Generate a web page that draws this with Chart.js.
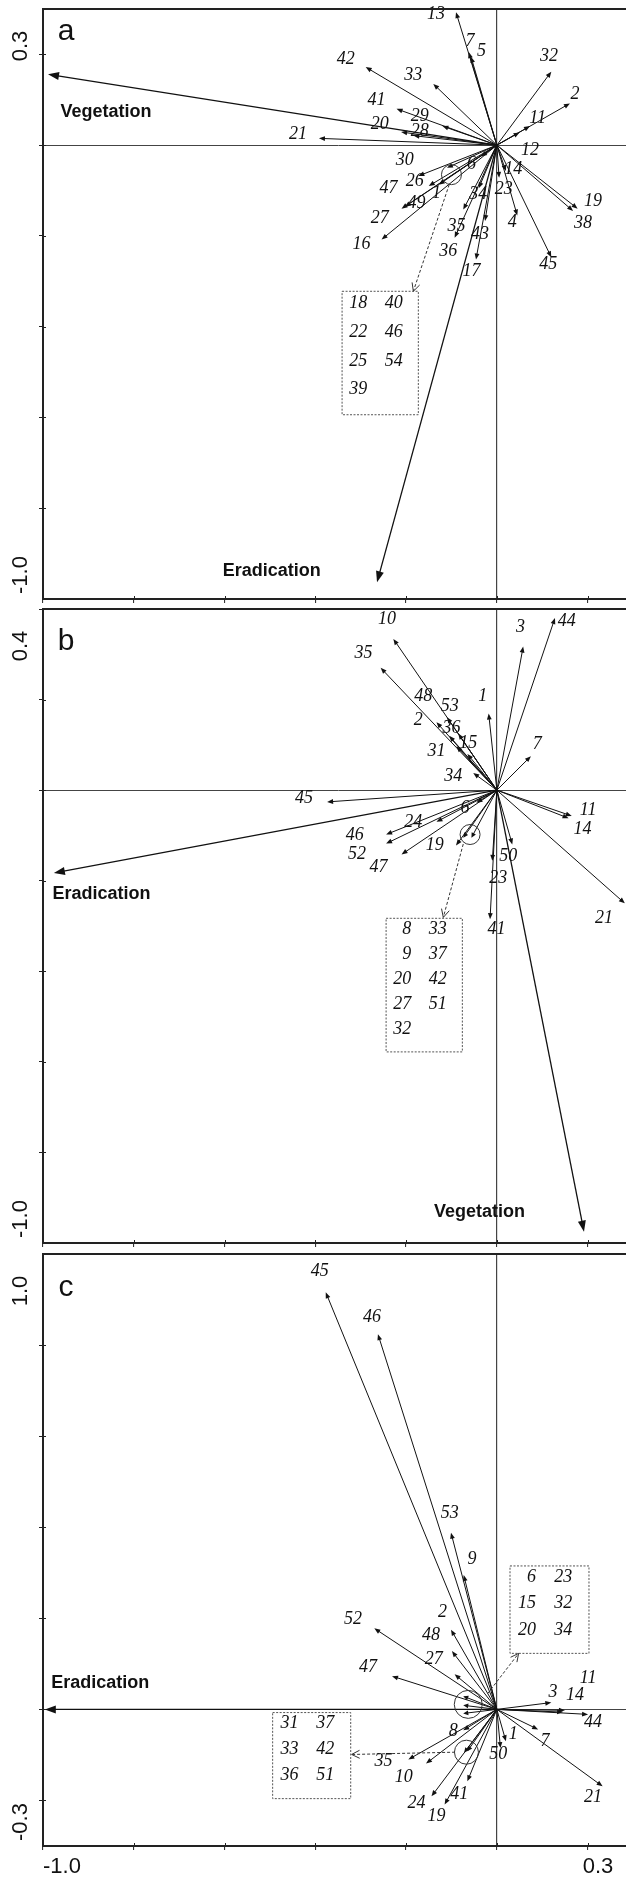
<!DOCTYPE html>
<html>
<head>
<meta charset="utf-8">
<script src="https://cdn.jsdelivr.net/npm/chart.js@4.4.1/dist/chart.umd.min.js"></script>
<style>
html, body { margin: 0; padding: 0; background: #fff; width: 626px; height: 1877px; overflow: hidden; }
.panel { position: absolute; left: 0; }
</style>
</head>
<body>
<div class="panel" style="top:0px"><canvas id="chartA" width="633" height="604"></canvas></div>
<div class="panel" style="top:604px"><canvas id="chartB" width="633" height="644"></canvas></div>
<div class="panel" style="top:1248px"><canvas id="chartC" width="633" height="629"></canvas></div>
<script>
// shared x axis
const xTicks = [-1.0, -0.8, -0.6, -0.4, -0.2, 0, 0.2];
const xEndLabels = ['-1.0', '0.3'];

// ---- panel a ----
const aYTicks = [0.2, 0, -0.2, -0.4, -0.6, -0.8];
const aYEndLabels = ['0.3', '-1.0'];
const aSpecies = ['13','7','5','42','33','32','2','11','12','41','29','20','28','21','30','26','6','47','1','49','27','16','34','35','36','43','17','23','14','4','45','19','38'];
const aTipX = [-0.090,-0.062,-0.057,-0.289,-0.140,0.120,0.161,0.073,0.050,-0.221,-0.120,-0.211,-0.184,-0.392,-0.110,-0.173,-0.035,-0.150,-0.128,-0.203,-0.210,-0.254,-0.040,-0.074,-0.093,-0.026,-0.046,0.005,0.020,0.045,0.120,0.178,0.168];
const aTipY = [0.293,0.205,0.195,0.172,0.135,0.162,0.092,0.042,0.028,0.080,0.042,0.029,0.021,0.015,-0.050,-0.068,-0.025,-0.090,-0.087,-0.136,-0.140,-0.208,-0.095,-0.142,-0.204,-0.167,-0.252,-0.072,-0.057,-0.155,-0.247,-0.140,-0.145];
const aLabelX = [-0.134,-0.059,-0.034,-0.333,-0.184,0.115,0.172,0.090,0.073,-0.265,-0.170,-0.258,-0.170,-0.438,-0.203,-0.181,-0.056,-0.239,-0.133,-0.177,-0.258,-0.298,-0.041,-0.089,-0.107,-0.037,-0.056,0.015,0.036,0.034,0.113,0.212,0.190];
const aLabelY = [0.288,0.229,0.207,0.190,0.154,0.196,0.112,0.060,-0.011,0.099,0.064,0.047,0.031,0.024,-0.033,-0.079,-0.043,-0.096,-0.105,-0.127,-0.160,-0.219,-0.109,-0.178,-0.233,-0.197,-0.278,-0.098,-0.054,-0.171,-0.263,-0.123,-0.172];
const aEnvNames = ['Vegetation', 'Eradication'];
const aEnvX = [-0.989, -0.264];
const aEnvY = [0.156, -0.963];
const aEnvLabelX = [-0.861, -0.496];
const aEnvLabelY = [0.072, -0.939];
const aGroupX = [];
const aGroupY = [];
const aCircleX = [-0.100];
const aCircleY = [-0.065];
const aLinkFrom = [[-0.105, -0.087]];
const aLinkTo = [[-0.184, -0.322]];
const aBoxX = [[-0.341, -0.173]];
const aBoxY = [[-0.322, -0.594]];
const aBoxRows = [[['18','40'],['22','46'],['25','54'],['39','']]];

// ---- panel b ----
const bYTicks = [0.4, 0.2, 0, -0.2, -0.4, -0.6, -0.8];
const bYEndLabels = ['0.4', '-1.0'];
const bSpecies = ['10','35','3','44','1','48','53','2','36','15','31','34','7','11','14','21','45','46','52','47','24','6','19','50','23','41'];
const bTipX = [-0.228,-0.256,0.058,0.128,-0.018,-0.110,-0.085,-0.133,-0.105,-0.065,-0.089,-0.052,0.075,0.165,0.158,0.282,-0.374,-0.244,-0.244,-0.210,-0.133,-0.045,-0.090,0.034,-0.010,-0.015];
const bTipY = [0.334,0.270,0.317,0.380,0.169,0.161,0.125,0.150,0.120,0.080,0.097,0.038,0.075,-0.057,-0.062,-0.250,-0.026,-0.098,-0.118,-0.142,-0.070,-0.028,-0.122,-0.120,-0.156,-0.285];
const bLabelX = [-0.242,-0.294,0.052,0.154,-0.031,-0.162,-0.104,-0.173,-0.100,-0.063,-0.133,-0.096,0.089,0.201,0.189,0.236,-0.425,-0.313,-0.308,-0.261,-0.184,-0.070,-0.137,0.025,0.003,-0.001];
const bLabelY = [0.378,0.303,0.360,0.372,0.207,0.207,0.185,0.154,0.137,0.103,0.085,0.031,0.101,-0.044,-0.087,-0.283,-0.017,-0.100,-0.142,-0.170,-0.070,-0.039,-0.122,-0.147,-0.195,-0.308];
const bEnvNames = ['Eradication', 'Vegetation'];
const bEnvX = [-0.976, 0.192];
const bEnvY = [-0.183, -0.975];
const bEnvLabelX = [-0.871, -0.038];
const bEnvLabelY = [-0.230, -0.931];
const bGroupX = [-0.056, -0.074];
const bGroupY = [-0.105, -0.105];
const bCircleX = [-0.059];
const bCircleY = [-0.098];
const bLinkFrom = [[-0.074, -0.119]];
const bLinkTo = [[-0.118, -0.281]];
const bBoxX = [[-0.244, -0.076]];
const bBoxY = [[-0.283, -0.578]];
const bBoxRows = [[['8','33'],['9','37'],['20','42'],['27','51'],['32','']]];

// ---- panel c ----
const cYTicks = [0.8, 0.6, 0.4, 0.2, 0, -0.2];
const cYEndLabels = ['1.0', '-0.3'];
const cSpecies = ['45','46','53','9','2','48','27','52','47','3','14','11','44','7','21','1','50','8','35','10','24','19','41'];
const cTipX = [-0.377,-0.262,-0.101,-0.073,-0.101,-0.099,-0.093,-0.270,-0.231,0.120,0.146,0.150,0.201,0.091,0.233,0.020,0.008,-0.074,-0.195,-0.156,-0.144,-0.115,-0.065];
const cTipY = [0.916,0.824,0.388,0.295,0.175,0.128,0.077,0.178,0.073,0.015,-0.006,-0.002,-0.011,-0.044,-0.169,-0.070,-0.085,-0.046,-0.110,-0.119,-0.191,-0.209,-0.158];
const cLabelX = [-0.390,-0.275,-0.104,-0.055,-0.120,-0.145,-0.139,-0.317,-0.284,0.124,0.172,0.201,0.212,0.106,0.212,0.036,0.003,-0.096,-0.250,-0.205,-0.177,-0.133,-0.083];
const cLabelY = [0.962,0.861,0.430,0.329,0.213,0.163,0.110,0.197,0.093,0.038,0.031,0.068,-0.028,-0.070,-0.194,-0.055,-0.099,-0.048,-0.114,-0.150,-0.206,-0.235,-0.187];
const cEnvNames = ['Eradication'];
const cEnvX = [-0.996];
const cEnvY = [0];
const cEnvLabelX = [-0.874];
const cEnvLabelY = [0.057];
const cGroupX = [-0.074, -0.074, -0.074, -0.065, -0.072];
const cGroupY = [0.029, 0.009, -0.009, -0.092, -0.095];
const cCircleX = [-0.063, -0.067];
const cCircleY = [0.011, -0.094];
const cLinkFrom = [[-0.020, 0.035], [-0.092, -0.094]];
const cLinkTo = [[0.048, 0.123], [-0.320, -0.099]];
const cBoxX = [[0.029, 0.203], [-0.494, -0.322]];
const cBoxY = [[0.315, 0.123], [-0.007, -0.196]];
const cBoxRows = [
    [['6','23'],['15','32'],['20','34']],
    [['31','37'],['33','42'],['36','51']]
];

const SPECIES_FONT = 'italic 18px "Liberation Serif", "DejaVu Serif", serif';
const ENV_FONT = 'bold 18px "Liberation Sans", Arial, sans-serif';
const AXIS_FONT = '22px "Liberation Sans", Arial, sans-serif';
const LETTER_FONT = '30px "Liberation Sans", Arial, sans-serif';
const INK = '#111';

const toPoints = (xs, ys) => xs.map((v, i) => ({ x: v, y: ys[i] }));

function drawArrow(ctx, x0, y0, x1, y1, len, half, open) {
    const ang = Math.atan2(y1 - y0, x1 - x0);
    const c = Math.cos(ang), s = Math.sin(ang);
    const bx = x1 - c * len, by = y1 - s * len;
    ctx.beginPath();
    ctx.moveTo(x0, y0);
    ctx.lineTo(open ? x1 : bx + c, open ? y1 : by + s);
    ctx.stroke();
    ctx.save();
    ctx.setLineDash([]);
    ctx.beginPath();
    ctx.moveTo(bx - s * half, by + c * half);
    ctx.lineTo(x1, y1);
    ctx.lineTo(bx + s * half, by - c * half);
    if (open) {
        ctx.stroke();
    } else {
        ctx.closePath();
        ctx.fill();
    }
    ctx.restore();
}

const biplotPlugin = (p) => ({
    id: 'biplot',
    afterDatasetsDraw(chart) {
        const { ctx, scales: { x, y } } = chart;
        const px = (v) => x.getPixelForValue(v);
        const py = (v) => y.getPixelForValue(v);
        const ox = px(0), oy = py(0);

        ctx.save();
        ctx.strokeStyle = INK;
        ctx.fillStyle = INK;

        // species and grouped arrows
        ctx.lineWidth = 1;
        chart.getDatasetMeta(0).data.forEach(pt => drawArrow(ctx, ox, oy, pt.x, pt.y, 6, 2.4, false));
        chart.getDatasetMeta(2).data.forEach(pt => drawArrow(ctx, ox, oy, pt.x, pt.y, 5, 2.4, false));

        // environmental arrows
        ctx.lineWidth = 1.3;
        chart.getDatasetMeta(1).data.forEach(pt => drawArrow(ctx, ox, oy, pt.x, pt.y, 11, 4, false));

        // circles round grouped species
        ctx.lineWidth = 1;
        ctx.strokeStyle = '#333';
        p.circleX.forEach((cx, i) => {
            ctx.beginPath();
            ctx.arc(px(cx), py(p.circleY[i]), p.circleR[i], 0, Math.PI * 2);
            ctx.stroke();
        });

        // dashed links to boxes
        ctx.setLineDash([3, 2]);
        p.linkFrom.forEach((f, i) => {
            const t = p.linkTo[i];
            drawArrow(ctx, px(f[0]), py(f[1]), px(t[0]), py(t[1]), 8, 4, true);
        });

        // boxes
        ctx.setLineDash([2, 1.5]);
        ctx.strokeStyle = '#555';
        ctx.font = SPECIES_FONT;
        ctx.textBaseline = 'middle';
        ctx.fillStyle = INK;
        p.boxX.forEach((bx, i) => {
            const left = px(bx[0]), right = px(bx[1]);
            const top = py(p.boxY[i][0]), bottom = py(p.boxY[i][1]);
            const w = right - left, h = bottom - top;
            ctx.strokeRect(left, top, w, h);
            const rows = p.boxRows[i];
            const gap = h / (rows.length + 0.3);
            rows.forEach((row, r) => {
                const ty = top + gap * 0.42 + r * gap;
                ctx.textAlign = 'right';
                ctx.fillText(row[0], left + w * 0.33, ty);
                ctx.textAlign = 'left';
                ctx.fillText(row[1], left + w * 0.56, ty);
            });
        });
        ctx.setLineDash([]);

        // species labels
        ctx.textAlign = 'center';
        ctx.textBaseline = 'middle';
        ctx.font = SPECIES_FONT;
        p.species.forEach((s, i) => ctx.fillText(s, px(p.labelX[i]), py(p.labelY[i])));

        // environmental labels
        ctx.font = ENV_FONT;
        p.envNames.forEach((s, i) => ctx.fillText(s, px(p.envLabelX[i]), py(p.envLabelY[i])));
        ctx.restore();
    },
    afterDraw(chart) {
        const { ctx, chartArea: area, scales: { x, y } } = chart;
        ctx.save();
        ctx.strokeStyle = '#222';
        ctx.lineWidth = 2;
        ctx.beginPath();
        ctx.moveTo(area.left - 1, area.top);
        ctx.lineTo(area.right, area.top);
        ctx.stroke();

        // short inner halves of the tick marks
        ctx.lineWidth = 1;
        ctx.beginPath();
        y.ticks.forEach(t => {
            const ty = Math.round(y.getPixelForValue(t.value)) + 0.5;
            ctx.moveTo(area.left, ty);
            ctx.lineTo(area.left + 3, ty);
        });
        x.ticks.forEach(t => {
            const tx = Math.round(x.getPixelForValue(t.value)) + 0.5;
            ctx.moveTo(tx, area.bottom);
            ctx.lineTo(tx, area.bottom - 3);
        });
        ctx.stroke();

        ctx.fillStyle = INK;
        ctx.font = LETTER_FONT;
        ctx.textAlign = 'center';
        ctx.textBaseline = 'middle';
        ctx.fillText(p.letter, area.left + 23, area.top + p.letterDy);

        // y axis end labels, rotated
        ctx.font = AXIS_FONT;
        [[p.yEnd[0], area.top + 37], [p.yEnd[1], area.bottom - 24]].forEach(([t, ty]) => {
            ctx.save();
            ctx.translate(area.left - 22, ty);
            ctx.rotate(-Math.PI / 2);
            ctx.fillText(t, 0, 0);
            ctx.restore();
        });

        if (p.showX) {
            ctx.fillText(xEndLabels[0], area.left + 19, area.bottom + 21);
            ctx.fillText(xEndLabels[1], x.getPixelForValue(0.3) - 35, area.bottom + 21);
        }
        ctx.restore();
    }
});

function makePanel(p) {
    const zeroLine = (c) => (c.tick && c.tick.value === 0 ? '#444' : 'rgba(0,0,0,0)');
    new Chart(document.getElementById(p.canvas), {
        type: 'scatter',
        data: {
            datasets: [
                { label: 'species', data: toPoints(p.tipX, p.tipY), pointRadius: 0 },
                { label: 'environment', data: toPoints(p.envX, p.envY), pointRadius: 0 },
                { label: 'grouped', data: toPoints(p.groupX, p.groupY), pointRadius: 0 }
            ]
        },
        options: {
            responsive: false,
            animation: false,
            events: [],
            layout: { padding: { top: p.padTop, left: 0, right: 0, bottom: 0 } },
            plugins: { legend: { display: false }, tooltip: { enabled: false } },
            scales: {
                x: {
                    type: 'linear',
                    min: -1.0,
                    max: 0.3,
                    afterBuildTicks: (s) => { s.ticks = xTicks.map(v => ({ value: v })); },
                    afterFit: (s) => { s.height = p.xAxisH; },
                    ticks: { display: false },
                    grid: { drawOnChartArea: true, color: zeroLine, lineWidth: 1.2, tickColor: '#222', tickLength: 4, tickWidth: 1 },
                    border: { display: true, color: '#222', width: 2 }
                },
                y: {
                    type: 'linear',
                    min: p.yMin,
                    max: p.yMax,
                    afterBuildTicks: (s) => { s.ticks = p.yTicks.map(v => ({ value: v })); },
                    afterFit: (s) => { s.width = 43; },
                    ticks: { display: false },
                    grid: { drawOnChartArea: true, color: zeroLine, lineWidth: 1, tickColor: '#222', tickLength: 4, tickWidth: 1 },
                    border: { display: true, color: '#222', width: 2 }
                }
            }
        },
        plugins: [biplotPlugin(p)]
    });
}

makePanel({
    canvas: 'chartA', yMin: -1.0, yMax: 0.3, yTicks: aYTicks, yEnd: aYEndLabels,
    letter: 'a', letterDy: 23, padTop: 9, xAxisH: 5, showX: false,
    species: aSpecies, tipX: aTipX, tipY: aTipY, labelX: aLabelX, labelY: aLabelY,
    envNames: aEnvNames, envX: aEnvX, envY: aEnvY, envLabelX: aEnvLabelX, envLabelY: aEnvLabelY,
    groupX: aGroupX, groupY: aGroupY, circleX: aCircleX, circleY: aCircleY, circleR: [10],
    linkFrom: aLinkFrom, linkTo: aLinkTo, boxX: aBoxX, boxY: aBoxY, boxRows: aBoxRows
});

makePanel({
    canvas: 'chartB', yMin: -1.0, yMax: 0.4, yTicks: bYTicks, yEnd: bYEndLabels,
    letter: 'b', letterDy: 33, padTop: 5, xAxisH: 5, showX: false,
    species: bSpecies, tipX: bTipX, tipY: bTipY, labelX: bLabelX, labelY: bLabelY,
    envNames: bEnvNames, envX: bEnvX, envY: bEnvY, envLabelX: bEnvLabelX, envLabelY: bEnvLabelY,
    groupX: bGroupX, groupY: bGroupY, circleX: bCircleX, circleY: bCircleY, circleR: [10],
    linkFrom: bLinkFrom, linkTo: bLinkTo, boxX: bBoxX, boxY: bBoxY, boxRows: bBoxRows
});

makePanel({
    canvas: 'chartC', yMin: -0.3, yMax: 1.0, yTicks: cYTicks, yEnd: cYEndLabels,
    letter: 'c', letterDy: 34, padTop: 6, xAxisH: 31, showX: true,
    species: cSpecies, tipX: cTipX, tipY: cTipY, labelX: cLabelX, labelY: cLabelY,
    envNames: cEnvNames, envX: cEnvX, envY: cEnvY, envLabelX: cEnvLabelX, envLabelY: cEnvLabelY,
    groupX: cGroupX, groupY: cGroupY, circleX: cCircleX, circleY: cCircleY, circleR: [14, 12],
    linkFrom: cLinkFrom, linkTo: cLinkTo, boxX: cBoxX, boxY: cBoxY, boxRows: cBoxRows
});
</script>
</body>
</html>
